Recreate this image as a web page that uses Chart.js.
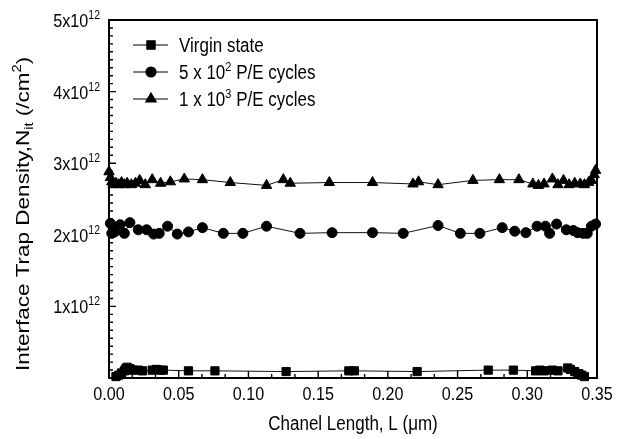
<!DOCTYPE html>
<html><head><meta charset="utf-8">
<script src="https://cdn.jsdelivr.net/npm/chart.js@4/dist/chart.umd.min.js"></script>
<style>html,body{margin:0;padding:0;background:#fff}#w{width:627px;height:439px}</style>
</head><body><div id="w"><canvas id="c" width="627" height="439"></canvas></div>
<script>
// ---- data (N_it in units of 1e12 /cm^2, L in um) ----
const virginL = [0.005,0.007,0.009,0.011,0.012,0.013,0.015,0.017,0.021,0.024,0.031,0.034,0.037,0.039,0.057,0.076,0.127,0.172,0.176,0.221,0.272,0.290,0.306,0.309,0.312,0.318,0.322,0.329,0.331,0.334,0.337,0.339,0.341];
const virginNit = [0.02,0.04,0.07,0.10,0.13,0.15,0.13,0.11,0.11,0.10,0.11,0.12,0.11,0.11,0.10,0.10,0.09,0.10,0.10,0.09,0.11,0.11,0.10,0.11,0.10,0.11,0.10,0.14,0.12,0.09,0.06,0.04,0.02];
const cyc500L = [0.001,0.002,0.003,0.004,0.008,0.011,0.015,0.021,0.027,0.032,0.036,0.042,0.049,0.057,0.067,0.082,0.096,0.113,0.137,0.160,0.189,0.211,0.236,0.252,0.266,0.282,0.291,0.299,0.307,0.313,0.316,0.321,0.328,0.333,0.336,0.340,0.343,0.346,0.349];
const cyc500Nit = [2.16,2.02,2.10,2.04,2.14,2.02,2.17,2.07,2.07,2.01,2.02,2.12,2.01,2.04,2.10,2.02,2.02,2.12,2.02,2.03,2.03,2.02,2.13,2.02,2.02,2.10,2.05,2.03,2.12,2.12,2.02,2.15,2.07,2.06,2.03,2.02,2.02,2.12,2.15];
const cyc1000L = [0.000,0.001,0.002,0.003,0.005,0.007,0.009,0.011,0.013,0.016,0.019,0.022,0.026,0.031,0.037,0.044,0.054,0.067,0.087,0.113,0.125,0.130,0.158,0.189,0.218,0.222,0.236,0.261,0.280,0.294,0.304,0.308,0.312,0.318,0.322,0.326,0.330,0.334,0.338,0.341,0.344,0.346,0.348,0.349];
const cyc1000Nit = [2.88,2.80,2.74,2.70,2.72,2.70,2.73,2.70,2.72,2.70,2.72,2.76,2.70,2.77,2.72,2.74,2.78,2.77,2.73,2.69,2.77,2.72,2.73,2.73,2.71,2.74,2.70,2.76,2.77,2.77,2.71,2.69,2.71,2.78,2.70,2.76,2.70,2.72,2.71,2.70,2.73,2.76,2.84,2.90];
const seriesLabels = ['Virgin state', '5 x 10^{2} P/E cycles', '1 x 10^{3} P/E cycles'];
const xTickLabels = ['0.00','0.05','0.10','0.15','0.20','0.25','0.30','0.35'];
const yTickLabels = ['', '1x10^{12}', '2x10^{12}', '3x10^{12}', '4x10^{12}', '5x10^{12}'];
const xTitle = 'Chanel Length, L (\u03BCm)';
const yTitle = 'Interface Trap Density,N_{it} (/cm^{2})';

const FONT = '"Liberation Sans", Arial, sans-serif';
const SX = 0.85;

function segs(str){
  const out=[]; const re=/(\^\{[^}]*\}|_\{[^}]*\})/g; let last=0, m;
  while((m=re.exec(str))){ if(m.index>last) out.push([str.slice(last,m.index),0]);
    out.push([m[0].slice(2,-1), m[0][0]==='^'?1:-1]); last=re.lastIndex; }
  if(last<str.length) out.push([str.slice(last),0]);
  return out;
}
function drawRich(ctx, str, x, y, size, align, sx, sy){
  const parts = segs(str);
  let W=0; const ws=[];
  for(const [t,k] of parts){ ctx.font = (k? size*0.65 : size)+'px '+FONT; const w=ctx.measureText(t).width; ws.push(w); W+=w; }
  const start = align==='right' ? x - W*sx : align==='center' ? x - W*sx/2 : x;
  ctx.save(); ctx.translate(start, y); ctx.scale(sx, sy||1);
  ctx.textBaseline='alphabetic'; ctx.textAlign='left'; ctx.fillStyle='#000';
  let cx=0;
  parts.forEach(([t,k],i)=>{ ctx.font=(k? size*0.65 : size)+'px '+FONT;
    const dy = k===1 ? -size*0.42 : k===-1 ? size*0.22 : 0;
    ctx.fillText(t, cx, dy); cx+=ws[i]; });
  ctx.restore();
}

const decor = {
  id:'decor',
  afterDatasetsDraw(chart){
    const {ctx, chartArea:a, scales:{x,y}} = chart;
    ctx.save();
    ctx.strokeStyle='#000'; ctx.lineWidth=2;
    ctx.strokeRect(a.left, a.top, a.right-a.left, a.bottom-a.top);
    ctx.lineWidth=1.4;
    const xt = x.ticks.map(t=>t.value);
    ctx.beginPath();
    xt.forEach((v,i)=>{ const p=x.getPixelForValue(v); ctx.moveTo(p,a.bottom); ctx.lineTo(p,a.bottom-7);
      if(i<xt.length-1){ const step=(xt[i+1]-v)/3; for(let k=1;k<3;k++){ const q=x.getPixelForValue(v+k*step); ctx.moveTo(q,a.bottom); ctx.lineTo(q,a.bottom-4);} } });
    const yt = y.ticks.map(t=>t.value);
    yt.forEach((v,i)=>{ const p=y.getPixelForValue(v); ctx.moveTo(a.left,p); ctx.lineTo(a.left+7,p);
      if(i<yt.length-1){ const step=(yt[i+1]-v)/9; for(let k=1;k<9;k++){ const q=y.getPixelForValue(v+k*step); ctx.moveTo(a.left,q); ctx.lineTo(a.left+4,q);} } });
    ctx.stroke();
    xt.forEach((v,i)=>drawRich(ctx, xTickLabels[i], x.getPixelForValue(v), a.bottom+22, 19, 'center', SX));
    yt.forEach((v,i)=>{ if(yTickLabels[i]) drawRich(ctx, yTickLabels[i], a.left-9, y.getPixelForValue(v)+7, 19, 'right', SX); });
    drawRich(ctx, xTitle, (a.left+a.right)/2, 430, 20, 'center', SX);
    ctx.save(); ctx.translate(29, 214); ctx.rotate(-Math.PI/2);
    drawRich(ctx, yTitle, 0, 0, 22.5, 'center', 1, SX);
    ctx.restore();
    chart.data.datasets.forEach((ds,i)=>{
      const cy = 45 + i*27;
      ctx.strokeStyle='#000'; ctx.lineWidth=1.2;
      ctx.beginPath(); ctx.moveTo(133,cy); ctx.lineTo(168,cy); ctx.stroke();
      Chart.helpers.drawPoint(ctx, {pointStyle: ds.pointStyle, radius: ds.pointRadius, borderWidth:1}, 151, cy);
      ctx.fillStyle='#000'; ctx.fill();
      drawRich(ctx, seriesLabels[i], 179, cy+7, 20, 'left', SX);
    });
    ctx.restore();
  }
};

function pts(xs, ys){ return xs.map((v,i)=>({x:v, y:ys[i]})); }
function ds(label, xs, ys, style, r){
  return {label, data: pts(xs,ys), showLine:true, borderColor:'#111', borderWidth:1,
    pointStyle:style, pointRadius:r, pointHoverRadius:r, pointBackgroundColor:'#000', pointBorderColor:'#000',
    pointBorderWidth:1, clip:false, tension:0};
}

new Chart(document.getElementById('c'), {
  type:'scatter',
  data:{ datasets:[
    ds(seriesLabels[0], virginL, virginNit, 'rect', 5.8),
    ds(seriesLabels[1], cyc500L, cyc500Nit, 'circle', 5),
    ds(seriesLabels[2], cyc1000L, cyc1000Nit, 'triangle', 6)
  ]},
  options:{
    responsive:false, animation:false, devicePixelRatio:1,
    layout:{padding:{left:109, right:30, top:20, bottom:61}},
    plugins:{legend:{display:false}, tooltip:{enabled:false}},
    scales:{
      x:{type:'linear', min:0, max:0.35, ticks:{stepSize:0.05, display:false}, grid:{display:false, drawTicks:false}, border:{display:false},
         afterFit(s){ s.height=0; }},
      y:{type:'linear', min:0, max:5, ticks:{stepSize:1, display:false}, grid:{display:false, drawTicks:false}, border:{display:false},
         afterFit(s){ s.width=0; }}
    }
  },
  plugins:[decor]
});
</script>
</body></html>
